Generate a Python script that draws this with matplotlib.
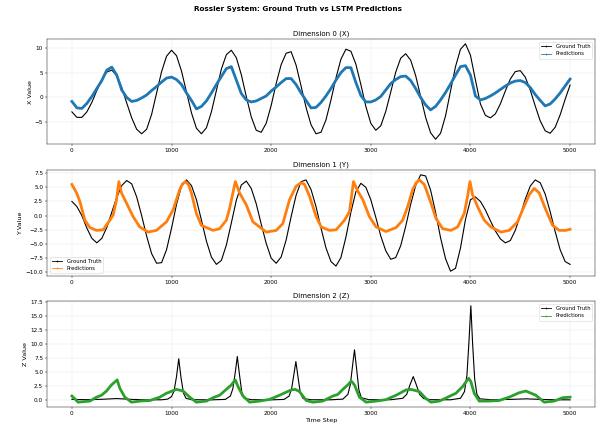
import matplotlib
matplotlib.use("Agg")
import matplotlib.pyplot as plt
from matplotlib.lines import Line2D
from matplotlib.ticker import MultipleLocator

# ---------------- data ----------------
steps_50 = list(range(0, 5001, 50))

x_truth = [-2.9, -4.0, -4.0, -2.9, -1.0, 1.4, 3.6, 5.1, 5.5, 4.4,
           2.0, -1.1, -4.1, -6.4, -7.3, -6.4, -3.4, 0.9, 5.2, 8.3,
           9.5, 8.4, 5.3, 1.1, -3.1, -6.2, -7.3, -6.1, -2.9, 1.4,
           5.7, 8.6, 9.5, 8.0, 4.6, 0.2, -3.9, -6.6, -7.0, -5.2,
           -1.6, 2.8, 6.6, 8.9, 9.2, 6.5, 2.3, -2.0, -5.5, -7.3,
           -7.0, -4.5, -0.5, 3.9, 7.7, 9.7, 9.3, 6.7, 2.6, -1.8,
           -5.2, -6.6, -5.7, -2.8, 1.1, 5.1, 7.9, 8.8, 7.5, 4.4,
           0.2, -4.0, -7.1, -8.4, -7.2, -3.7, 1.3, 6.2, 9.7, 10.8,
           8.5, 3.5, -1.3, -3.6, -4.1, -3.3, -1.3, 1.3, 3.7, 5.2,
           5.4, 4.1, 1.5, -1.7, -4.7, -6.7, -7.2, -6.0, -3.5, -0.4,
           2.5]

x_pred = [-0.8, -2.1, -2.2, -1.2, 0.2, 1.8, 3.4, 5.5, 6.1, 4.5,
          1.5, 0.0, -0.8, -0.6, -0.1, 0.5, 1.4, 2.2, 3.1, 3.9,
          4.1, 3.6, 2.6, 0.9, -0.6, -2.3, -1.8, -0.7, 0.9, 2.6,
          4.2, 5.8, 6.2, 3.5, 0.8, -0.5, -0.9, -0.7, -0.2, 0.3,
          1.3, 2.1, 3.0, 3.8, 3.8, 2.6, 0.9, -0.6, -2.1, -2.0,
          -1.0, 0.3, 1.8, 3.5, 5.0, 6.0, 6.0, 3.0, 0.4, -0.9,
          -0.9, -0.5, 0.2, 1.5, 2.8, 3.6, 4.2, 4.3, 3.4, 1.8,
          0.0, -1.5, -2.5, -1.8, -0.5, 1.0, 2.7, 4.5, 6.2, 6.4,
          4.5, 0.3, -0.5, -0.2, 0.3, 0.9, 1.6, 2.3, 2.9, 3.3,
          3.4, 3.0, 2.0, 0.6, -0.6, -1.7, -1.3, -0.3, 0.9, 2.3,
          3.7]

y_truth = [2.5, 1.6, 0.0, -2.2, -4.0, -4.8, -4.0, -2.1, 0.6, 3.2,
           5.3, 6.2, 5.6, 3.3, 0.0, -3.6, -6.7, -8.4, -8.3, -6.0,
           -2.2, 2.0, 5.2, 6.3, 5.3, 2.8, -0.8, -4.5, -7.3, -8.6,
           -7.9, -5.2, -1.3, 2.7, 5.4, 6.1, 4.8, 2.1, -1.5, -4.9,
           -7.5, -8.4, -7.3, -4.3, -0.2, 3.6, 6.0, 6.3, 4.6, 1.6,
           -2.2, -5.7, -8.1, -8.9, -7.4, -3.8, 0.6, 4.2, 5.7, 5.0,
           2.8, -0.3, -3.6, -6.2, -7.7, -7.4, -5.3, -1.9, 2.0, 5.3,
           7.2, 7.0, 4.5, 0.6, -3.9, -7.6, -9.8, -9.3, -5.7, -0.7,
           2.8, 3.3, 2.5, 1.0, -0.9, -2.7, -4.1, -4.8, -4.4, -2.6,
           0.0, 2.9, 5.2, 6.3, 5.8, 3.8, 0.7, -2.8, -6.0, -8.1,
           -8.6]

y_pred_steps = [0, 47, 80, 130, 180, 247, 314, 381, 414, 448, 471, 498, 548,
                615, 681, 765, 848, 949, 1015, 1082, 1110, 1139, 1170, 1199,
                1249, 1299, 1416, 1483, 1550, 1583, 1640, 1683, 1750, 1817,
                1951, 2051, 2117, 2184, 2251, 2301, 2335, 2385, 2452, 2502,
                2585, 2652, 2736, 2786, 2826, 2870, 2920, 2986, 3053, 3153,
                3254, 3320, 3370, 3420, 3455, 3487, 3537, 3604, 3654, 3721,
                3804, 3871, 3938, 3971, 3995, 4021, 4071, 4138, 4205, 4305,
                4389, 4473, 4523, 4590, 4640, 4690, 4757, 4824, 4890, 4957,
                5000]
y_pred = [5.5, 4.0, 2.5, -0.8, -2.1, -2.6, -2.5, -0.8, 0.1, 2.8, 6.0, 4.0, 2.2,
          -0.2, -2.0, -2.9, -2.6, -1.1, 1.0, 4.6, 5.6, 6.0, 5.5, 4.0,
          0.4, -1.7, -2.6, -2.3, -0.8, 1.3, 6.0, 4.0, 1.9, -1.1,
          -2.9, -2.6, -1.4, 2.8, 5.2, 5.8, 5.5, 3.4, -0.2, -2.0,
          -2.6, -2.5, -0.8, 0.7, 6.0, 4.3, 2.8, -0.2, -2.0, -2.8,
          -2.1, -0.8, 1.6, 4.6, 5.8, 6.3, 5.5, 2.2, -0.5, -2.3,
          -2.6, -2.0, 0.4, 3.4, 6.0, 3.7, 1.6, -0.8, -2.0, -2.9,
          -2.6, -1.1, 1.0, 3.7, 4.8, 4.0, 1.0, -1.7, -2.6, -2.6,
          -2.4]

z_truth_steps = [0, 150, 300, 450, 600, 750, 900, 960, 1000, 1025, 1050, 1072,
                 1095, 1120, 1145, 1200, 1400, 1540, 1590, 1615, 1640, 1660,
                 1682, 1705, 1730, 1800, 2000, 2130, 2180, 2205, 2228, 2248,
                 2270, 2293, 2320, 2400, 2600, 2720, 2770, 2795, 2817, 2836,
                 2858, 2880, 2905, 2980, 3200, 3320, 3360, 3395, 3426, 3455,
                 3490, 3530, 3600, 3800, 3900, 3940, 3965, 3985, 4004, 4022,
                 4042, 4065, 4095, 4200, 4400, 4560, 4700, 4850, 5000]
z_truth = [0.1, 0.05, 0.12, 0.25, 0.1, 0.03, 0.03, 0.15, 0.6, 1.6, 4.2, 7.4,
           4.0, 1.2, 0.3, 0.05, 0.02, 0.1, 0.7, 2.0, 5.0, 7.8,
           4.5, 1.4, 0.3, 0.05, 0.02, 0.1, 0.7, 2.0, 4.6, 6.9,
           4.0, 1.2, 0.25, 0.04, 0.03, 0.15, 1.0, 2.8, 6.2, 9.0,
           5.5, 1.8, 0.4, 0.05, 0.04, 0.3, 1.0, 2.8, 4.2, 2.8,
           1.0, 0.25, 0.05, 0.03, 0.3, 1.5, 4.5, 10.5, 16.9, 10.0,
           3.8, 1.0, 0.2, 0.05, 0.1, 0.2, 0.1, 0.03, 0.02]

z_pred_steps = [0, 63, 120, 180, 247, 297, 347, 397, 454, 481, 531, 598, 681,
                782, 882, 949, 1049, 1116, 1182, 1249, 1350, 1416, 1483, 1550,
                1600, 1640, 1667, 1717, 1784, 1884, 1984, 2084, 2201, 2240,
                2285, 2352, 2418, 2518, 2619, 2669, 2719, 2769, 2803, 2836,
                2886, 2953, 3053, 3153, 3254, 3353, 3403, 3487, 3554, 3604,
                3688, 3771, 3854, 3921, 3981, 4004, 4038, 4088, 4188, 4288,
                4389, 4489, 4556, 4656, 4740, 4840, 4924, 5000]
z_pred = [0.7, -0.4, -0.3, -0.2, 0.5, 0.85, 1.6, 2.7, 3.6, 2.1, 0.5, -0.4, -0.2,
          -0.1, 0.5, 1.2, 1.9, 1.6, 0.5, -0.4, -0.2, 0.4, 0.85, 1.9,
          2.7, 3.6, 2.4, 0.7, -0.4, -0.2, 0.1, 0.85, 1.8, 1.9,
          1.5, -0.1, -0.4, -0.2, 0.7, 1.0, 1.9, 2.7, 3.4, 2.7,
          0.5, -0.4, -0.2, 0.06, 0.85, 1.8, 1.9, 1.5, 0.25, -0.4,
          -0.2, 0.5, 1.2, 2.4, 3.9, 3.3, 1.2, -0.2, -0.2, -0.1,
          0.5, 1.3, 1.6, 0.85, -0.4, -0.2, 0.4, 0.5]

dim_titles = ["Dimension 0 (X)", "Dimension 1 (Y)", "Dimension 2 (Z)"]
y_labels = ["X Value", "Y Value", "Z Value"]
legend_labels = ["Ground Truth", "Predictions"]
main_title = "Rossler System: Ground Truth vs LSTM Predictions"
pred_colors = ["#1f77b4", "#ff7f0e", "#2ca02c"]
legend_locs = ["upper right", "lower left", "upper right"]
y_tick_steps = [5, 2.5, 2.5]

# ---------------- figure ----------------
DPI = 40
fig = plt.figure(figsize=(597 / DPI, 433 / DPI), dpi=DPI)

boxes = [
    (47 / 597, 1 - 144 / 433, 548 / 597, 105 / 433),
    (47 / 597, 1 - 276 / 433, 548 / 597, 106 / 433),
    (47 / 597, 1 - 407 / 433, 548 / 597, 106 / 433),
]

series = [
    (steps_50, x_truth, steps_50, x_pred),
    (steps_50, y_truth, y_pred_steps, y_pred),
    (z_truth_steps, z_truth, z_pred_steps, z_pred),
]

for i, (box, (ts, tv, ps, pv)) in enumerate(zip(boxes, series)):
    ax = fig.add_axes(box)
    ax.plot(ts, tv, color="black", linewidth=2.0)
    ax.plot(ps, pv, color=pred_colors[i], linewidth=5.0)
    ax.set_title(dim_titles[i], fontsize=12.5)
    ax.set_ylabel(y_labels[i], fontsize=11.5)
    ax.yaxis.set_major_locator(MultipleLocator(y_tick_steps[i]))
    ax.grid(True, alpha=0.3)
    ax.tick_params(labelsize=10.4)
    handles = [
        Line2D([], [], color="black", linewidth=1.5, marker="o", markersize=2),
        Line2D([], [], color=pred_colors[i], linewidth=1.5, marker="o", markersize=2),
    ]
    ax.legend(handles, legend_labels, loc=legend_locs[i], fontsize=9.5)
    if i == 2:
        ax.set_xlabel("Time Step", fontsize=11.5)

fig.suptitle(main_title, fontsize=13, fontweight="bold", y=0.985)

fig.savefig("out.png", dpi=DPI)
